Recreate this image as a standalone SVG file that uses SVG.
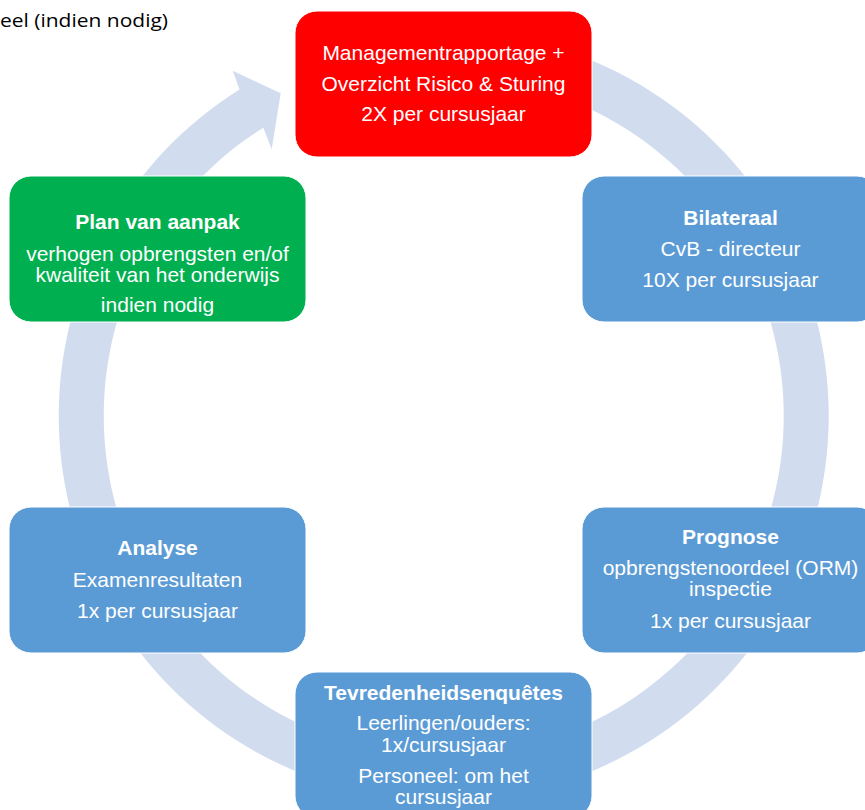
<svg xmlns="http://www.w3.org/2000/svg" width="865" height="810" viewBox="0 0 865 810">
<style>
.box{stroke:#ffffff;stroke-width:1}
.red{fill:#FF0000}
.green{fill:#00B050}
.blue{fill:#5B9BD5}
text{font-family:"Liberation Sans",Arial,sans-serif;font-size:21px;fill:#ffffff;text-anchor:middle}
.b{font-weight:bold}
.note{font-family:"Open Sans","Noto Sans",sans-serif;font-size:19px;fill:#000000;text-anchor:start}
</style>
<rect width="865" height="810" fill="#ffffff"/>
<text class="note" x="0" y="27" textLength="168" lengthAdjust="spacingAndGlyphs">eel (indien nodig)</text>
<g id="connectors">
<path d="M 324.5 49.8 A 385 385 0 1 1 239.5 89.5 L 232.7 70.7 L 280.7 93.3 L 271.7 149.3 L 263.3 127.7 A 340 340 0 1 0 338.4 92.6 Z" fill="#D1DDEF"/>
</g>
<g id="node-management">
<rect class="box red" x="295" y="11" width="297" height="146" rx="22"/>
<text x="443.5" y="60">Managementrapportage +</text>
<text x="443.5" y="91">Overzicht Risico &amp; Sturing</text>
<text x="443.5" y="121">2X per cursusjaar</text>
</g>
<g id="node-plan">
<rect class="box green" x="9" y="176" width="297" height="146" rx="22"/>
<text class="b" x="157.5" y="229">Plan van aanpak</text>
<text x="157.5" y="261">verhogen opbrengsten en/of</text>
<text x="157.5" y="282">kwaliteit van het onderwijs</text>
<text x="157.5" y="312">indien nodig</text>
</g>
<g id="node-bilateraal">
<rect class="box blue" x="582" y="176" width="297" height="146" rx="22"/>
<text class="b" x="730.5" y="225">Bilateraal</text>
<text x="730.5" y="256">CvB - directeur</text>
<text x="730.5" y="287">10X per cursusjaar</text>
</g>
<g id="node-analyse">
<rect class="box blue" x="9" y="507" width="297" height="146" rx="22"/>
<text class="b" x="157.5" y="555">Analyse</text>
<text x="157.5" y="587">Examenresultaten</text>
<text x="157.5" y="618">1x per cursusjaar</text>
</g>
<g id="node-prognose">
<rect class="box blue" x="582" y="507" width="297" height="146" rx="22"/>
<text class="b" x="730.5" y="544">Prognose</text>
<text x="730.5" y="575">opbrengstenoordeel (ORM)</text>
<text x="730.5" y="596">inspectie</text>
<text x="730.5" y="628">1x per cursusjaar</text>
</g>
<g id="node-tevredenheid">
<rect class="box blue" x="295" y="672" width="297" height="146" rx="22"/>
<text class="b" x="443.5" y="700">Tevredenheidsenquêtes</text>
<text x="443.5" y="730">Leerlingen/ouders:</text>
<text x="443.5" y="752">1x/cursusjaar</text>
<text x="443.5" y="783">Personeel: om het</text>
<text x="443.5" y="804">cursusjaar</text>
</g>
</svg>
